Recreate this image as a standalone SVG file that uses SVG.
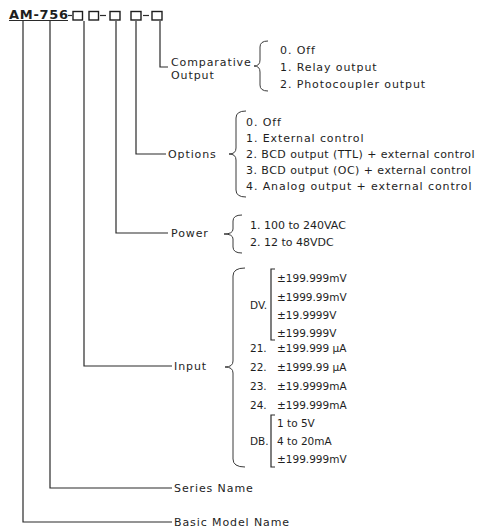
<svg xmlns="http://www.w3.org/2000/svg" width="482" height="528" viewBox="0 0 482 528">
<style>
text{font-family:"DejaVu Sans",sans-serif;fill:#1e1e1e}
.lb{font-size:11px;letter-spacing:0.9px}
.it{font-size:11px;letter-spacing:0.9px}
.it2{font-size:11px;letter-spacing:0.45px}
.nm{font-size:10.5px}
.pw{font-size:11px}
.ln{fill:none;stroke:#2a2a2a;stroke-width:1.2}
.br{fill:none;stroke:#3a3a3a;stroke-width:1}
.bx{fill:#fff;stroke:#1e1e1e;stroke-width:1.4}
</style>
<rect width="482" height="528" fill="#fff"/>
<g id="header">
<text x="9" y="19" font-size="13" font-weight="bold" textLength="59" lengthAdjust="spacing">AM-756</text>
<line class="ln" x1="9" y1="20.5" x2="68" y2="20.5"/>
<line class="ln" x1="68" y1="15.5" x2="72" y2="15.5"/>
<rect class="bx" x="73" y="11.5" width="9.5" height="8.5"/>
<rect class="bx" x="89" y="11.5" width="9.5" height="8.5"/>
<line class="ln" x1="100" y1="15.5" x2="106" y2="15.5"/>
<rect class="bx" x="110" y="11.5" width="10" height="8.5"/>
<rect class="bx" x="131" y="11.5" width="10" height="8.5"/>
<line class="ln" x1="143" y1="15.5" x2="149" y2="15.5"/>
<rect class="bx" x="152" y="11.5" width="10" height="8.5"/>
</g>
<g id="connectors">
<path class="ln" d="M160,21 V67 H168"/>
<path class="ln" d="M136,21 V154 H166"/>
<path class="ln" d="M116,21 V233 H168"/>
<path class="ln" d="M84,21 V366 H172"/>
<path class="ln" d="M50,21 V488 H172"/>
<path class="ln" d="M23,21 V522 H172"/>
</g>
<g id="comparative-output">
<text class="lb" x="171" y="66">Comparative</text>
<text class="lb" x="171" y="79">Output</text>
<path class="br" d="M268,41 Q260,41 260,47 L260,60 Q260,66 254,66 Q260,66 260,72 L260,85 Q260,91 268,91"/>
<text class="it" x="280" y="54">0. Off</text>
<text class="it" x="280" y="71">1. Relay output</text>
<text class="it" x="280" y="88">2. Photocoupler output</text>
</g>
<g id="options">
<text class="lb" x="168" y="158">Options</text>
<path class="br" d="M246,111 Q236,111 236,118 L236,148 Q236,154 229,154 Q236,154 236,160 L236,190 Q236,197 246,197"/>
<text class="it" x="246" y="126">0. Off</text>
<text class="it" x="246" y="142">1. External control</text>
<text class="it2" x="246" y="158">2. BCD output (TTL) + external control</text>
<text class="it2" x="246" y="174">3. BCD output (OC) + external control</text>
<text class="it" x="246" y="190">4. Analog output + external control</text>
</g>
<g id="power">
<text class="lb" x="171" y="237">Power</text>
<path class="br" d="M242,215 Q233,215 233,221 L233,229 Q233,234 224,234 Q233,234 233,239 L233,247 Q233,253 242,253"/>
<text class="pw" x="250" y="229">1. 100 to 240VAC</text>
<text class="pw" x="250" y="246">2. 12 to 48VDC</text>
</g>
<g id="input">
<text class="lb" x="174" y="370">Input</text>
<path class="br" d="M245,268 Q233,268 233,276 L233,361 Q233,367 225,367 Q233,367 233,373 L233,459 Q233,467 245,467"/>
<text class="nm" x="250" y="309">DV.</text>
<path class="ln" d="M275,269 H271 V340 H275"/>
<text class="nm" x="277" y="282">±199.999mV</text>
<text class="nm" x="277" y="301">±1999.99mV</text>
<text class="nm" x="277" y="319">±19.9999V</text>
<text class="nm" x="277" y="337">±199.999V</text>
<text class="nm" x="250" y="352">21.</text>
<text class="nm" x="277" y="352">±199.999 μA</text>
<text class="nm" x="250" y="371">22.</text>
<text class="nm" x="277" y="371">±1999.99 μA</text>
<text class="nm" x="250" y="390">23.</text>
<text class="nm" x="277" y="390">±19.9999mA</text>
<text class="nm" x="250" y="409">24.</text>
<text class="nm" x="277" y="409">±199.999mA</text>
<text class="nm" x="250" y="445">DB.</text>
<path class="ln" d="M275,415 H271 V467 H275"/>
<text class="nm" x="277" y="427">1 to 5V</text>
<text class="nm" x="277" y="445">4 to 20mA</text>
<text class="nm" x="277" y="463">±199.999mV</text>
</g>
<g id="series-name">
<text class="lb" x="174" y="492">Series Name</text>
</g>
<g id="basic-model-name">
<text class="lb" x="174" y="526">Basic Model Name</text>
</g>
</svg>
